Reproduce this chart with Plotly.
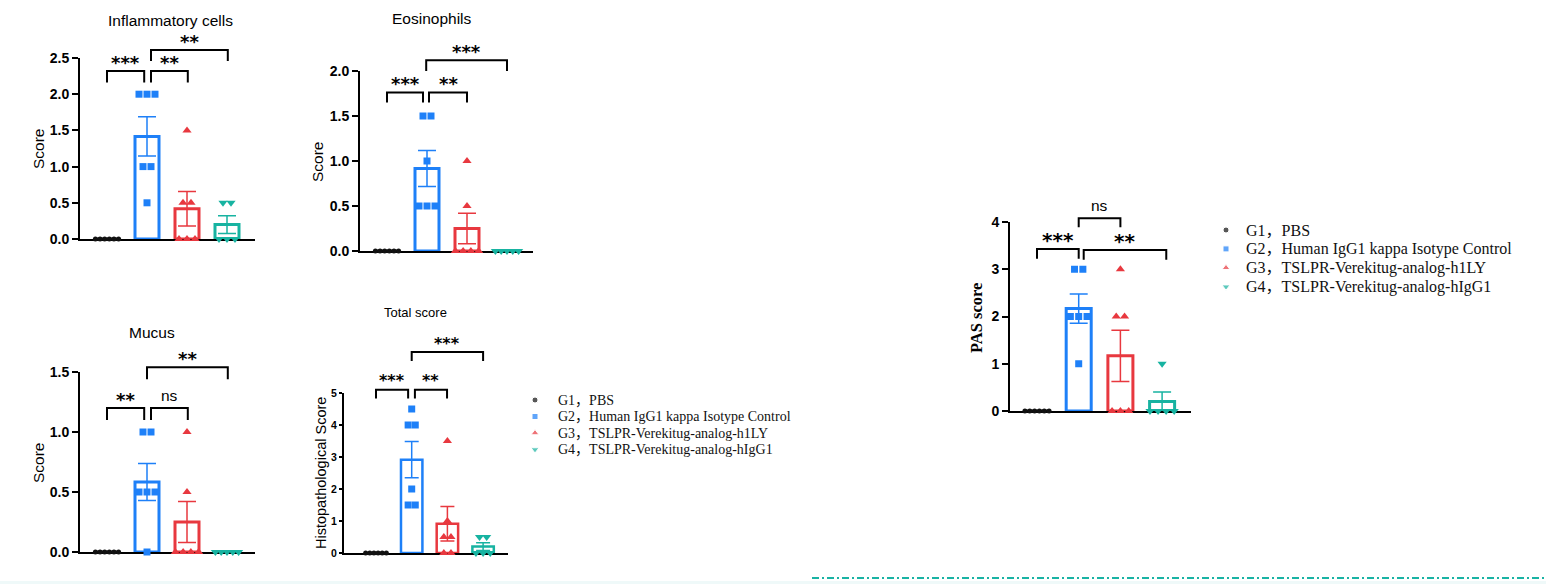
import numpy as np
import plotly.graph_objects as go

W, H = 1546, 584

# ---- data: individual animal scores ----
group_labels = [
    "G1，PBS",
    "G2，Human IgG1 kappa Isotype Control",
    "G3，TSLPR-Verekitug-analog-h1LY",
    "G4，TSLPR-Verekitug-analog-hIgG1",
]

infl_g1 = [0, 0, 0, 0, 0, 0]
infl_g2 = [2, 2, 2, 1, 1, 0.5]
infl_g3 = [1.5, 0.5, 0.5, 0, 0, 0]
infl_g4 = [0.5, 0.5, 0, 0, 0]
infl_sig = ["***", "**", "**"]

eos_g1 = [0, 0, 0, 0, 0, 0]
eos_g2 = [1.5, 1.5, 1, 0.5, 0.5, 0.5]
eos_g3 = [1, 0.5, 0, 0, 0, 0]
eos_g4 = [0, 0, 0, 0, 0]
eos_sig = ["***", "**", "***"]

mucus_g1 = [0, 0, 0, 0, 0, 0]
mucus_g2 = [1, 1, 0.5, 0.5, 0.5, 0]
mucus_g3 = [1, 0.5, 0, 0, 0, 0]
mucus_g4 = [0, 0, 0, 0, 0]
mucus_sig = ["**", "ns", "**"]

total_g1 = [0, 0, 0, 0, 0, 0]
total_g2 = [4.5, 4, 4, 2, 1.5, 1.5]
total_g3 = [3.5, 1, 0.5, 0.5, 0, 0]
total_g4 = [0.5, 0.5, 0, 0, 0]
total_sig = ["***", "**", "***"]

pas_g1 = [0, 0, 0, 0, 0, 0]
pas_g2 = [3, 3, 2, 2, 2, 1]
pas_g3 = [3, 2, 2, 0, 0, 0]
pas_g4 = [1, 0, 0, 0, 0]
pas_sig = ["***", "ns", "**"]

# ---- styles ----
colors = ["#111111", "#1E80F8", "#E8383F", "#17B3A1"]
symbols = ["circle", "square", "triangle-up", "triangle-down"]
msizes = [5, 7, 8, 8]
SANS = "Arial, Liberation Sans, sans-serif"
STAR = "DejaVu Sans, sans-serif"
SERIF = "Times New Roman, Liberation Serif, Noto Sans CJK SC, serif"

# layout of each panel in page pixels; brackets = (x_from, x_to, top, leg) in data units
panels = [
    dict(groups=[infl_g1, infl_g2, infl_g3, infl_g4], sig=infl_sig,
         title="Inflammatory cells", title_xy=(170, 20), tsize=15.5,
         ytitle="Score", ytitle_xy=(38, 149), ytsize=15.5, ytfont=SANS, ytbold=False,
         xpx=(80, 255), c0=107, step=40, ypx=(239, 58), ymax=2.5, dtick=0.5, fmt=".1f",
         ticksize=14, ticklen=6, starsize=18, barline=3, cap=9,
         brackets=[(0, 0.93, 2.32, 2.16), (1.1, 2.02, 2.32, 2.16), (1.1, 3.02, 2.61, 2.46)]),
    dict(groups=[eos_g1, eos_g2, eos_g3, eos_g4], sig=eos_sig,
         title="Eosinophils", title_xy=(432, 19), tsize=15.5,
         ytitle="Score", ytitle_xy=(317, 162), ytsize=15.5, ytfont=SANS, ytbold=False,
         xpx=(360, 533), c0=387, step=40, ypx=(251, 71), ymax=2.0, dtick=0.5, fmt=".1f",
         ticksize=14, ticklen=6, starsize=18, barline=3, cap=9,
         brackets=[(0, 0.9, 1.76, 1.65), (1.05, 2.0, 1.76, 1.65), (0.98, 3.0, 2.12, 2.0)]),
    dict(groups=[mucus_g1, mucus_g2, mucus_g3, mucus_g4], sig=mucus_sig,
         title="Mucus", title_xy=(152, 332), tsize=15.5,
         ytitle="Score", ytitle_xy=(38, 463), ytsize=15.5, ytfont=SANS, ytbold=False,
         xpx=(80, 255), c0=107, step=40, ypx=(552, 372), ymax=1.5, dtick=0.5, fmt=".1f",
         ticksize=14, ticklen=6, starsize=18, barline=3, cap=9,
         brackets=[(0, 0.93, 1.2, 1.1), (1.1, 2.02, 1.2, 1.1), (1.0, 3.02, 1.54, 1.44)]),
    dict(groups=[total_g1, total_g2, total_g3, total_g4], sig=total_sig,
         title="Total score", title_xy=(416, 312), tsize=13,
         ytitle="Histopathological Score", ytitle_xy=(321, 473), ytsize=14.5, ytfont=SANS, ytbold=False,
         xpx=(344, 508), c0=376, step=35.7, ypx=(553, 393), ymax=5, dtick=1, fmt="d",
         ticksize=10.5, ticklen=3, starsize=16, barline=2.5, cap=7,
         brackets=[(0, 0.9, 5.1, 4.83), (1.09, 1.99, 5.1, 4.83), (1.0, 3.0, 6.28, 6.0)]),
    dict(groups=[pas_g1, pas_g2, pas_g3, pas_g4], sig=pas_sig,
         title=None, title_xy=None, tsize=15,
         ytitle="PAS score", ytitle_xy=(976, 318), ytsize=16.5, ytfont=SERIF, ytbold=True,
         xpx=(1010, 1191), c0=1037, step=41.7, ypx=(411, 222), ymax=4, dtick=1, fmt="d",
         ticksize=14, ticklen=6, starsize=20, barline=3, cap=9,
         brackets=[(0, 1.0, 3.43, 3.22), (1.0, 2.0, 4.08, 3.89), (1.12, 3.1, 3.41, 3.2)]),
]


def spread(vals, step=0.2, span=0.58):
    # horizontal offsets for points sharing the same value
    counts = {}
    for v in vals:
        counts[v] = counts.get(v, 0) + 1
    seen = {}
    xs = []
    for v in vals:
        k = counts[v]
        i = seen.get(v, 0)
        seen[v] = i + 1
        s = min(step, span / (k - 1)) if k > 1 else 0
        xs.append((i - (k - 1) / 2) * s)
    return np.array(xs)


fig = go.Figure()
layout = {}
annotations = []

for k, p in enumerate(panels, start=1):
    sfx = "" if k == 1 else str(k)
    xa, ya, yb = "x" + sfx, "y" + sfx, "y" + str(k + 10)
    x0, x1 = p["xpx"]
    ybase, ytop = p["ypx"]
    unit = (ybase - ytop) / p["ymax"]
    xr = [(x0 - p["c0"]) / p["step"], (x1 - p["c0"]) / p["step"]]
    btop = max(0, ytop - 70)

    layout["xaxis" + sfx] = dict(
        domain=[x0 / W, x1 / W], range=xr, anchor=ya, showline=True, linewidth=2,
        linecolor="black", ticks="", showticklabels=False, showgrid=False,
        zeroline=False, layer="below traces", fixedrange=True, automargin=False)
    layout["yaxis" + sfx] = dict(
        domain=[1 - ybase / H, 1 - ytop / H], range=[0, p["ymax"]], anchor=xa,
        showline=True, linewidth=2, linecolor="black", ticks="outside",
        ticklen=p["ticklen"], tickwidth=2, tickcolor="black", tick0=0, dtick=p["dtick"],
        tickformat=p["fmt"],
        tickfont=dict(family=SANS, size=p["ticksize"], color="black", weight="bold"),
        showgrid=False, zeroline=False, layer="below traces", fixedrange=True,
        automargin=False)
    layout["yaxis" + str(k + 10)] = dict(
        domain=[1 - ybase / H, 1 - btop / H], range=[0, (ybase - btop) / unit],
        anchor=xa, visible=False, fixedrange=True, automargin=False)

    for i, vals in enumerate(p["groups"]):
        v = np.array(vals, dtype=float)
        mean = v.mean()
        sem = v.std(ddof=1) / np.sqrt(len(v))
        fig.add_trace(go.Bar(
            x=[i], y=[mean], width=0.6, xaxis=xa, yaxis=ya, showlegend=False,
            marker=dict(color="white", line=dict(color=colors[i], width=p["barline"])),
            error_y=dict(type="data", array=[sem], color=colors[i], thickness=1.5,
                         width=p["cap"])))
        fig.add_trace(go.Scatter(
            x=i + spread(vals), y=v, mode="markers", xaxis=xa, yaxis=ya,
            showlegend=False, cliponaxis=False,
            marker=dict(symbol=symbols[i], size=msizes[i], color=colors[i])))

    bx, by = [], []
    for (a, b, top, leg), lab in zip(p["brackets"], p["sig"]):
        bx += [a, a, b, b, None]
        by += [leg, top, top, leg, None]
        is_star = "*" in lab
        annotations.append(dict(
            x=(a + b) / 2, y=top, xref=xa, yref=yb, showarrow=False,
            text=lab, yanchor="middle", yshift=9 if is_star else 13,
            font=dict(family=STAR if is_star else SANS,
                      size=p["starsize"] if is_star else 15.5,
                      color="black", weight="bold" if is_star else "normal")))
    fig.add_trace(go.Scatter(
        x=bx, y=by, mode="lines", xaxis=xa, yaxis=yb, showlegend=False,
        line=dict(color="black", width=2), hoverinfo="skip"))

    if p["title"]:
        annotations.append(dict(
            x=p["title_xy"][0] / W, y=1 - p["title_xy"][1] / H, xref="paper",
            yref="paper", text=p["title"], showarrow=False, xanchor="center",
            yanchor="middle", font=dict(family=SANS, size=p["tsize"], color="black")))
    annotations.append(dict(
        x=p["ytitle_xy"][0] / W, y=1 - p["ytitle_xy"][1] / H, xref="paper", yref="paper",
        text=p["ytitle"], showarrow=False, textangle=-90, xanchor="center",
        yanchor="middle",
        font=dict(family=p["ytfont"], size=p["ytsize"], color="black",
                  weight="bold" if p["ytbold"] else "normal")))

# ---- the two legends ----
legends = [
    dict(ax=6, xpx=(535, 800), rows=(400, 449.5), shift=21, size=14, msz=[6, 6, 7, 7]),
    dict(ax=7, xpx=(1226, 1540), rows=(230, 286.7), shift=18, size=16, msz=[6, 6, 7, 7]),
]
for lg in legends:
    n = str(lg["ax"])
    r0, r1 = lg["rows"]
    half = (r1 - r0) / 6
    layout["xaxis" + n] = dict(domain=[lg["xpx"][0] / W, lg["xpx"][1] / W], range=[0, 1],
                               anchor="y" + n, visible=False, fixedrange=True)
    layout["yaxis" + n] = dict(domain=[1 - (r1 + half) / H, 1 - (r0 - half) / H],
                               range=[3.5, -0.5], anchor="x" + n, visible=False,
                               fixedrange=True)
    fig.add_trace(go.Scatter(
        x=[0] * 4, y=list(range(4)), mode="markers", xaxis="x" + n, yaxis="y" + n,
        showlegend=False, cliponaxis=False,
        marker=dict(symbol=symbols, size=lg["msz"], color=colors)))
    for i, lab in enumerate(group_labels):
        annotations.append(dict(
            x=0, y=i, xref="x" + n, yref="y" + n, text=lab, showarrow=False,
            xanchor="left", yanchor="middle", xshift=lg["shift"],
            font=dict(family=SERIF, size=lg["size"], color="#111111")))

# page decoration along the bottom edge
fig.add_shape(type="rect", xref="paper", yref="paper", x0=0, x1=1,
              y0=0, y1=1 - 581 / H, fillcolor="#eff9f9", line=dict(width=0), layer="below")
fig.add_shape(type="line", xref="paper", yref="paper", x0=812 / W, x1=1,
              y0=1 - 578 / H, y1=1 - 578 / H,
              line=dict(color="#19b3a4", width=2, dash="7px,3px,2px,3px"))

fig.update_layout(
    width=W, height=H, margin=dict(l=0, r=0, t=0, b=0, pad=0, autoexpand=False),
    paper_bgcolor="white", plot_bgcolor="rgba(0,0,0,0)", barmode="overlay",
    showlegend=False, annotations=annotations, hovermode=False, **layout)

page_fix = "document.body.style.margin='0';document.body.style.overflow='hidden';"
fig.write_html("out.html", config={"displayModeBar": False}, post_script=page_fix)
